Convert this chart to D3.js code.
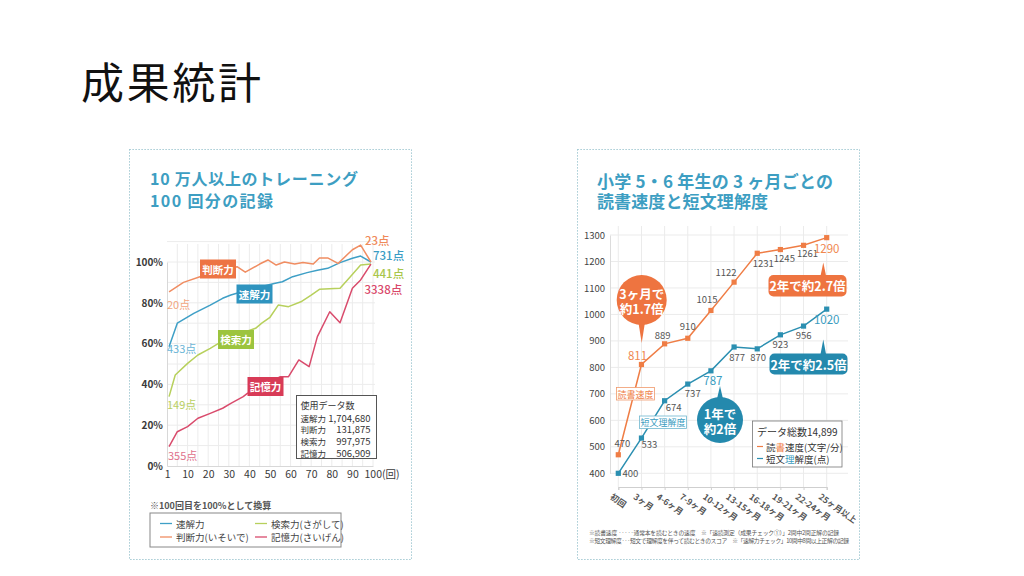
<!DOCTYPE html>
<html><head><meta charset="utf-8">
<script src="https://cdn.jsdelivr.net/npm/d3@7"></script>
<style>
body{margin:0;background:#fff}
svg{display:block}
text{font-family:'Noto Sans CJK JP','Noto Sans',sans-serif}
</style>
</head><body>
<svg id="c" width="1024" height="576"></svg>
<script>
// ---------- data : left chart ----------
const roundTicks = [1,10,20,30,40,50,60,70,80,90,100];
const pctTicks = [0,20,40,60,80,100];
const sokkaiX  = [1,5,13,21,27,31,40,52,56,61,68,73,78,84,90,94,99];
const sokkaiY  = [58.5,70,74.8,78.9,82.2,83.8,86.5,89.5,90.3,92.8,94.8,96,96.9,99.7,101.8,102.9,100];
const handanX  = [1,8,16,25,34,38,45,49,53,57,62,66,71,74,78,83,90,94,99];
const handanY  = [85.4,90,92.8,95,97.7,95,99,101,98.5,100,99,99.7,99,102,102,99.3,106,108.3,100];
const kensakuX = [1,4,10,15,21,25,33,43,46,50,54,59,65,70,74,84,89,94,99];
const kensakuY = [34,44.6,50.3,54.4,57.7,60.1,64,67.5,70,72.9,78.9,78.1,80.5,83.8,86.6,87.1,92.8,98.5,99];
const kiokuX   = [1,5,10,15,21,27,31,37,39,48,55,59,64,69,73,79,84,90,94,99];
const kiokuY   = [9.5,16.8,19.3,23.4,25.8,28.3,30.7,34,35.6,40,43.8,43.8,52,48.7,63.4,75.6,70.2,87.1,91.2,99];
const skillNames = ["速解力","判断力","検索力","記憶力"];
const legendNames = ["速解力","判断力(いそいで)","検索力(さがして)","記憶力(さいげん)"];
const startScores = ["433点","20点","149点","355点"];
const endScores = ["731点","23点","441点","3338点"];
const dataCounts = [1704680,131875,997975,506909];

// ---------- data : right chart ----------
const periods = ["初回","3ヶ月","4-6ヶ月","7-9ヶ月","10-12ヶ月","13-15ヶ月","16-18ヶ月","19-21ヶ月","22-24ヶ月","25ヶ月以上"];
const readingSpeed  = [470,811,889,910,1015,1122,1231,1245,1261,1290];
const comprehension = [400,533,674,737,787,877,870,923,956,1020];
const scoreTicks = [400,500,600,700,800,900,1000,1100,1200,1300];
const totalData = 14899;

// ---------- drawing ----------
const svg = d3.select("#c");
const FONT = "'Noto Sans CJK JP','Noto Sans',sans-serif";
const TEAL_TITLE = "#3d9ec2";

// multi-line helper: one <text>, one <tspan> per line
function multi(g, x, y, lines, lh, opts){
  const t = g.append("text").attr("x",x).attr("y",y).attr("dominant-baseline","central");
  Object.entries(opts).forEach(([k,v])=>t.attr(k,v));
  lines.forEach((ln,k)=>{
    const s = t.append("tspan").attr("x",x).attr("y",y+k*lh).attr("dominant-baseline","central").text(ln.t);
    if(ln.len){ s.attr("textLength",ln.len).attr("lengthAdjust","spacing"); }
  });
  return t;
}

// slide title
svg.append("text").attr("x",81).attr("y",80).attr("dominant-baseline","central")
  .attr("font-size",43).attr("fill","#111").attr("textLength",180).attr("lengthAdjust","spacing").text("成果統計");

// panels
[[129.5,149.5],[577.5,149.5]].forEach(([x,y])=>{
  svg.append("rect").attr("x",x).attr("y",y).attr("width",282).attr("height",410)
    .attr("fill","#fff").attr("stroke","#8dbcc8").attr("stroke-width",1).attr("stroke-dasharray","1.2,1.8");
});

// ===== LEFT CHART =====
const L = svg.append("g");
multi(L,150,178,[{t:"10 万人以上のトレーニング",len:208},{t:"100 回分の記録",len:123}],21.5,
  {"font-size":16,"font-weight":"bold","fill":TEAL_TITLE});

const xL = d3.scaleLinear().domain([0,100]).range([167,373]);
const yL = d3.scaleLinear().domain([0,100]).range([466,262]);

// grid
const gridL = L.append("g").attr("stroke","#ececec").attr("stroke-width",1);
gridL.selectAll("line.v").data(d3.range(5,101,5)).join("line")
  .attr("x1",d=>xL(d)).attr("x2",d=>xL(d)).attr("y1",244).attr("y2",466);
gridL.selectAll("line.h").data(d3.range(10,111,10)).join("line")
  .attr("x1",167).attr("x2",375).attr("y1",d=>yL(d)).attr("y2",d=>yL(d));

// axes
const axYL = L.append("g").attr("transform","translate(167,0)")
  .call(d3.axisLeft(yL).tickValues(pctTicks).tickFormat(d=>d+"%").tickSize(0).tickPadding(4));
axYL.select(".domain").attr("stroke","#d8d8d8");
axYL.selectAll("text").attr("font-family",FONT).attr("font-size",10).attr("font-weight","bold").attr("fill","#3a3a3a");

const axXL = L.append("g").attr("transform","translate(0,466)")
  .call(d3.axisBottom(xL).tickValues(roundTicks).tickFormat(d=>d===100?"100(回)":d).tickSize(0).tickPadding(5));
axXL.select(".domain").attr("stroke","#d8d8d8");
axXL.selectAll("text").attr("font-family",FONT).attr("font-size",10.5).attr("fill","#3a3a3a");
axXL.selectAll(".tick").filter(d=>d===100).select("text").attr("text-anchor","start").attr("dx",-9);
axXL.selectAll(".tick").filter(d=>d===1).select("text").attr("dx",-2);

// lines
const lineL = d3.line().x(d=>xL(d[0])).y(d=>yL(d[1]));
const seriesL = [
  {x:sokkaiX, y:sokkaiY, c:"#3e9fc6"},
  {x:handanX, y:handanY, c:"#f08d62"},
  {x:kensakuX, y:kensakuY, c:"#b7d05c"},
  {x:kiokuX, y:kiokuY, c:"#d94b6c"}
];
seriesL.forEach(s=>{
  L.append("path").datum(s.x.map((v,i)=>[v,s.y[i]])).attr("d",lineL)
    .attr("fill","none").attr("stroke",s.c).attr("stroke-width",1.5).attr("stroke-linejoin","round");
});

// name boxes
const boxCol = ["#2f94bf","#ed7444","#9cc43e","#d83b57"];
const boxPos = [[236.5,284.5],[200,259.5],[218,330],[247.5,377]];
skillNames.forEach((n,i)=>{
  L.append("rect").attr("x",boxPos[i][0]).attr("y",boxPos[i][1]).attr("width",36).attr("height",19)
    .attr("fill",boxCol[i]);
  L.append("text").attr("x",boxPos[i][0]+18).attr("y",boxPos[i][1]+9.8).attr("text-anchor","middle")
    .attr("dominant-baseline","central").attr("font-size",10.5).attr("font-weight","bold").attr("fill","#fff").text(n);
});

// start / end scores
const startCol = ["#6ab5d6","#f3a57d","#b9d062","#e0718c"];
const startPos = [[167,348],[167,303.5],[167,404],[168,455]];
startScores.forEach((t,i)=>{
  L.append("text").attr("x",startPos[i][0]).attr("y",startPos[i][1]).attr("dominant-baseline","central")
    .attr("font-size",11).attr("fill",startCol[i]).text(t);
});
const endCol = ["#3a9cc4","#ef8a5a","#a9c64a","#d9476a"];
const endPos = [[373,255],[365,240],[373,272.5],[364.5,288.5]];
endScores.forEach((t,i)=>{
  L.append("text").attr("x",endPos[i][0]).attr("y",endPos[i][1]).attr("dominant-baseline","central")
    .attr("font-size",11.5).attr("font-weight","500").attr("fill",endCol[i]).text(t);
});

// data count box
L.append("rect").attr("x",296.5).attr("y",395.5).attr("width",80).attr("height",63)
  .attr("fill","#fff").attr("stroke","#555").attr("stroke-width",1);
L.append("text").attr("x",300.5).attr("y",405.5).attr("dominant-baseline","central")
  .attr("font-size",9).attr("fill","#333").text("使用データ数");
const fmt = d3.format(",");
skillNames.forEach((n,i)=>{
  const yy = 417.5 + i*11.7;
  L.append("text").attr("x",300.5).attr("y",yy).attr("dominant-baseline","central")
    .attr("font-size",8.5).attr("fill","#333").text(n);
  L.append("text").attr("x",370.5).attr("y",yy).attr("dominant-baseline","central").attr("text-anchor","end")
    .attr("font-size",9.5).attr("fill","#333").text(fmt(dataCounts[i]));
});

// note + legend
L.append("text").attr("x",150).attr("y",505).attr("dominant-baseline","central")
  .attr("font-size",9).attr("font-weight","bold").attr("fill","#555").text("※100回目を100%として換算");
L.append("rect").attr("x",150).attr("y",513).attr("width",191).attr("height",34)
  .attr("fill","#fff").attr("stroke","#888").attr("stroke-width",1);
const legCol = ["#3e9fc6","#f08d62","#b7d05c","#d94b6c"];
const legPos = [[160,523.5],[160,537],[255,523.5],[255,537]];
legendNames.forEach((n,i)=>{
  const [lx,ly] = legPos[i];
  L.append("line").attr("x1",lx).attr("x2",lx+12).attr("y1",ly).attr("y2",ly).attr("stroke",legCol[i]).attr("stroke-width",1.3);
  L.append("text").attr("x",lx+16).attr("y",ly).attr("dominant-baseline","central")
    .attr("font-size",9.5).attr("fill","#444").text(n);
});

// ===== RIGHT CHART =====
const R = svg.append("g");
multi(R,597,180,[{t:"小学 5・6 年生の 3 ヶ月ごとの",len:236},{t:"読書速度と短文理解度",len:171}],20,
  {"font-size":17,"font-weight":"bold","fill":TEAL_TITLE});

const xR = d3.scalePoint().domain(periods).range([618.3,826.7]);
const yR = d3.scaleLinear().domain([400,1300]).range([473.3,235]);

const gridR = R.append("g").attr("stroke","#ebebeb").attr("stroke-width",1);
gridR.selectAll("line.h").data(scoreTicks).join("line")
  .attr("x1",610).attr("x2",848).attr("y1",d=>yR(d)).attr("y2",d=>yR(d));
gridR.selectAll("line.v").data(periods).join("line")
  .attr("x1",d=>xR(d)).attr("x2",d=>xR(d)).attr("y1",226).attr("y2",487);

const axYR = R.append("g").attr("transform","translate(610,0)")
  .call(d3.axisLeft(yR).tickValues(scoreTicks).tickFormat(d3.format("d")).tickSize(0).tickPadding(5));
axYR.select(".domain").attr("stroke","#dcdcdc");
axYR.selectAll("text").attr("font-family",FONT).attr("font-size",9.5).attr("fill","#444");

const axXR = R.append("g").attr("transform","translate(0,487)")
  .call(d3.axisBottom(xR).tickSize(3).tickPadding(0));
axXR.select(".domain").attr("stroke","#cfcfcf");
axXR.selectAll("line").attr("stroke","#cfcfcf");
axXR.selectAll("text").attr("font-family",FONT).attr("font-size",8.5).attr("font-weight","bold").attr("fill","#555")
  .attr("text-anchor","start").attr("dy",null).attr("y",null)
  .attr("transform","translate(-7,8) rotate(35)").attr("dominant-baseline","central");

const ORANGE = "#ef7d45", TEAL = "#2b8fb1";
const lineR = d3.line().x((d,i)=>xR(periods[i])).y(d=>yR(d));
[[readingSpeed,ORANGE],[comprehension,TEAL]].forEach(([arr,c])=>{
  R.append("path").datum(arr).attr("d",lineR).attr("fill","none").attr("stroke",c).attr("stroke-width",1.5);
  R.selectAll(null).data(arr).join("rect")
    .attr("x",(d,i)=>xR(periods[i])-2.6).attr("y",d=>yR(d)-2.6).attr("width",5.2).attr("height",5.2).attr("fill",c);
});

// value labels
const rOff = [[4,-12],[-4,-9],[-2,-9],[0,-12],[-4,-11],[-8,-10],[6,10],[4,8],[4,8],[0,10]];
const cOff = [[12,0],[8,6],[9,6],[5,9],[2,9],[3,10],[1,8],[0,9],[0,9],[0,10]];
readingSpeed.forEach((v,i)=>{
  const big = (i===1||i===9);
  R.append("text").attr("x",xR(periods[i])+rOff[i][0]).attr("y",yR(v)+rOff[i][1])
    .attr("text-anchor","middle").attr("dominant-baseline","central")
    .attr("font-size",big?11.5:9.5).attr("fill",big?"#f0884f":"#555").text(v);
});
comprehension.forEach((v,i)=>{
  const big = (i===4||i===9);
  R.append("text").attr("x",xR(periods[i])+cOff[i][0]).attr("y",yR(v)+cOff[i][1])
    .attr("text-anchor","middle").attr("dominant-baseline","central")
    .attr("font-size",big?11.5:9.5).attr("fill",big?"#3a9cc0":"#555").text(v);
});

// callouts
function bubble(cx,cy,r,tipY,col,lines){
  R.append("path").attr("d",`M${cx-3.5},${cy+(tipY>cy?r-4:-r+4)} L${cx},${tipY} L${cx+3.5},${cy+(tipY>cy?r-4:-r+4)} Z`).attr("fill",col);
  R.append("circle").attr("cx",cx).attr("cy",cy).attr("r",r).attr("fill",col);
  multi(R,cx,cy-7.5,lines.map(t=>({t})),15,
    {"text-anchor":"middle","font-size":12.5,"font-weight":"bold","fill":"#fff"});
}
function tag(x,y,w,h,tipX,tipY,col,t){
  R.append("path").attr("d",`M${tipX-3},${y+2} L${tipX},${tipY} L${tipX+3},${y+2} Z`).attr("fill",col);
  R.append("rect").attr("x",x).attr("y",y).attr("width",w).attr("height",h).attr("rx",5).attr("fill",col);
  R.append("text").attr("x",x+w/2).attr("y",y+h/2).attr("text-anchor","middle").attr("dominant-baseline","central")
    .attr("font-size",12.5).attr("font-weight","bold").attr("fill","#fff").text(t);
}
bubble(641.7,300,25,343,"#ee7440",["3ヶ月で","約1.7倍"]);
bubble(720,420,23,386,"#2489ad",["1年で","約2倍"]);
tag(768.5,275,78,21.5,823.3,262.5,"#ee7440","2年で約2.7倍");
tag(769.5,353.5,78,21,823.3,339.5,"#2489ad","2年で約2.5倍");

// series name boxes
R.append("rect").attr("x",616.5).attr("y",387.5).attr("width",38).attr("height",12.5)
  .attr("fill","#fff").attr("stroke","#f09a6c").attr("stroke-width",0.8);
R.append("text").attr("x",635.5).attr("y",394).attr("text-anchor","middle").attr("dominant-baseline","central")
  .attr("font-size",9).attr("fill","#ef7d45").text("読書速度");
R.append("rect").attr("x",639.5).attr("y",416).attr("width",47).attr("height",12.5)
  .attr("fill","#fff").attr("stroke","#6fb7cf").attr("stroke-width",0.8);
R.append("text").attr("x",663).attr("y",422.5).attr("text-anchor","middle").attr("dominant-baseline","central")
  .attr("font-size",9).attr("fill","#3a9cc0").text("短文理解度");

// legend box
R.append("rect").attr("x",752.5).attr("y",421).attr("width",89.5).attr("height",46)
  .attr("fill","#fff").attr("stroke","#777").attr("stroke-width",0.8);
R.append("text").attr("x",757).attr("y",431).attr("dominant-baseline","central")
  .attr("font-size",10).attr("fill","#333").text("データ総数" + fmt(totalData));
const lg1 = R.append("text").attr("x",766).attr("y",446.5).attr("dominant-baseline","central").attr("font-size",9.5).attr("fill","#333");
lg1.append("tspan").text("読");
lg1.append("tspan").attr("fill",ORANGE).text("書");
lg1.append("tspan").text("速度(文字/分)");
const lg2 = R.append("text").attr("x",766).attr("y",458.5).attr("dominant-baseline","central").attr("font-size",9.5).attr("fill","#333");
lg2.append("tspan").text("短文");
lg2.append("tspan").attr("fill","#3a9cc0").text("理");
lg2.append("tspan").text("解度(点)");
R.append("line").attr("x1",757).attr("x2",763).attr("y1",446.5).attr("y2",446.5).attr("stroke",ORANGE).attr("stroke-width",1.2);
R.append("line").attr("x1",757).attr("x2",763).attr("y1",458.5).attr("y2",458.5).attr("stroke",TEAL).attr("stroke-width",1.2);

// footnotes
multi(R,589,531.5,[
  {t:"※読書速度 ·····通常本を読むときの速度　※「速読測定（成果チェック①）」2問中2問正解の記録",len:250},
  {t:"※短文理解度···短文で理解度を伴って読むときのスコア　※「速解力チェック」10問中8問以上正解の記録",len:260}
],8.5,{"font-size":5.8,"fill":"#555"});
</script>
</body></html>
